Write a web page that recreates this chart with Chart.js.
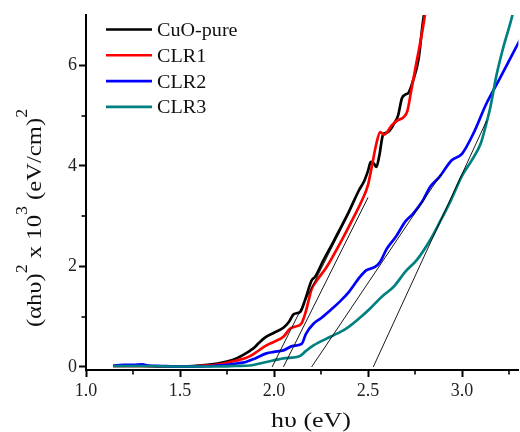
<!DOCTYPE html>
<html><head><meta charset="utf-8">
<script src="https://cdn.jsdelivr.net/npm/chart.js@4/dist/chart.umd.min.js"></script>
<style>html,body{margin:0;padding:0;background:#fff;}canvas{display:block;}</style>
</head><body>
<canvas id="c" width="520" height="432"></canvas>
<script>
// ---- data ----
const seriesLabels = ['CuO-pure', 'CLR1', 'CLR2', 'CLR3'];
const seriesColors = ['#000000', '#ff0000', '#0000ff', '#008080'];

const cuoX = [1.145, 1.2, 1.3, 1.4, 1.5, 1.6, 1.7, 1.75, 1.8, 1.85, 1.875, 1.89, 1.92, 1.95, 2.0, 2.05, 2.08, 2.105, 2.14, 2.165, 2.2, 2.22, 2.26, 2.32, 2.4, 2.45, 2.48, 2.5, 2.515, 2.53, 2.545, 2.56, 2.58, 2.6, 2.615, 2.64, 2.66, 2.68, 2.7, 2.715, 2.74, 2.77, 2.79, 2.81];
const cuoY = [0.02, 0.02, 0.02, 0.01, 0.01, 0.03, 0.07, 0.11, 0.17, 0.27, 0.33, 0.37, 0.48, 0.58, 0.68, 0.78, 0.9, 1.05, 1.1, 1.33, 1.72, 1.8, 2.1, 2.52, 3.1, 3.5, 3.7, 3.9, 4.08, 4.05, 3.98, 4.2, 4.62, 4.66, 4.7, 4.85, 5.0, 5.34, 5.42, 5.45, 5.7, 6.15, 6.8, 7.3];

const clr1X = [1.145, 1.3, 1.5, 1.6, 1.7, 1.8, 1.85, 1.875, 1.9, 1.96, 2.0, 2.05, 2.085, 2.11, 2.145, 2.165, 2.18, 2.2, 2.22, 2.28, 2.36, 2.42, 2.47, 2.5, 2.52, 2.545, 2.565, 2.585, 2.6, 2.625, 2.655, 2.69, 2.71, 2.73, 2.76, 2.79, 2.815];
const clr1Y = [0.02, 0.02, 0.01, 0.02, 0.05, 0.13, 0.18, 0.22, 0.28, 0.43, 0.5, 0.6, 0.76, 0.8, 0.86, 1.05, 1.26, 1.55, 1.68, 1.99, 2.52, 2.95, 3.33, 3.62, 3.98, 4.45, 4.67, 4.62, 4.66, 4.8, 4.9, 4.97, 5.1, 5.5, 6.1, 6.7, 7.3];

const clr2X = [1.145, 1.2, 1.25, 1.3, 1.33, 1.4, 1.5, 1.6, 1.7, 1.8, 1.85, 1.9, 1.96, 2.0, 2.05, 2.1, 2.147, 2.17, 2.21, 2.25, 2.3, 2.35, 2.4, 2.457, 2.49, 2.537, 2.564, 2.6, 2.65, 2.7, 2.74, 2.79, 2.83, 2.88, 2.945, 3.0, 3.06, 3.13, 3.2, 3.27, 3.31];
const clr2Y = [0.03, 0.04, 0.04, 0.05, 0.03, 0.02, 0.01, 0.01, 0.03, 0.07, 0.1, 0.17, 0.27, 0.3, 0.33, 0.42, 0.46, 0.66, 0.86, 0.97, 1.13, 1.3, 1.5, 1.79, 1.92, 1.99, 2.09, 2.35, 2.6, 2.9, 3.05, 3.3, 3.58, 3.78, 4.11, 4.24, 4.64, 5.24, 5.73, 6.23, 6.52];

const clr3X = [1.145, 1.3, 1.5, 1.7, 1.8, 1.872, 1.96, 2.05, 2.138, 2.17, 2.21, 2.3, 2.39, 2.46, 2.51, 2.555, 2.59, 2.635, 2.7, 2.76, 2.83, 2.89, 2.94, 3.0, 3.05, 3.1, 3.13, 3.15, 3.185, 3.22, 3.265, 3.28];
const clr3Y = [0.02, 0.02, 0.01, 0.01, 0.02, 0.03, 0.1, 0.17, 0.22, 0.32, 0.43, 0.6, 0.78, 0.99, 1.16, 1.33, 1.45, 1.59, 1.9, 2.13, 2.52, 2.94, 3.31, 3.8, 4.1, 4.45, 4.85, 5.15, 5.83, 6.36, 6.95, 7.2];

// tangent (band-gap extrapolation) lines: start on the x axis, end point
const tangentStartX = [1.99, 2.05, 2.20, 2.528];
const tangentEndX = [2.40, 2.50, 2.89, 3.131];
const tangentEndY = [3.07, 3.37, 3.84, 4.90];

const xTicks = [1.0, 1.5, 2.0, 2.5, 3.0];
const xMinorTicks = [1.25, 1.75, 2.25, 2.75, 3.25];
const yTicks = [0, 2, 4, 6];
const yMinorTicks = [1, 3, 5];
const xTitle = 'h\u03C5 (eV)';
const yTitleParts = [['(\u03B1h\u03C5)', 0], ['2', 1], [' x 10', 0], ['3', 1], [' (eV/cm)', 0], ['2', 1]];

// ---- build datasets ----
const zip = (xs, ys) => xs.map((x, i) => ({x: x, y: ys[i]}));
const seriesXs = [cuoX, clr1X, clr2X, clr3X];
const seriesYs = [cuoY, clr1Y, clr2Y, clr3Y];
const datasets = [];
seriesLabels.forEach((lab, i) => {
  datasets.push({
    label: lab, data: zip(seriesXs[i], seriesYs[i]),
    borderColor: seriesColors[i], backgroundColor: seriesColors[i],
    borderWidth: 2.7, pointRadius: 0, cubicInterpolationMode: 'monotone',
    order: 4 - i, isSeries: true
  });
});
tangentStartX.forEach((x0, i) => {
  datasets.push({
    label: 'tangent' + (i + 1), data: [{x: x0, y: 0}, {x: tangentEndX[i], y: tangentEndY[i]}],
    borderColor: '#000', borderWidth: 0.9, pointRadius: 0, order: 0, isSeries: false
  });
});

const FONT = '"Liberation Serif", "Times New Roman", serif';

const decor = {
  id: 'decor',
  afterDraw(chart) {
    const ctx = chart.ctx;
    const xs = chart.scales.x, ys = chart.scales.y;
    const area = chart.chartArea;
    ctx.save();
    // minor ticks
    ctx.strokeStyle = '#000'; ctx.lineWidth = 1.6;
    xMinorTicks.forEach(v => {
      const px = Math.round(xs.getPixelForValue(v));
      ctx.beginPath(); ctx.moveTo(px, area.bottom); ctx.lineTo(px, area.bottom + 4.5); ctx.stroke();
    });
    yMinorTicks.forEach(v => {
      const py = Math.round(ys.getPixelForValue(v));
      ctx.beginPath(); ctx.moveTo(area.left - 4.5, py); ctx.lineTo(area.left, py); ctx.stroke();
    });
    // legend
    const items = chart.data.datasets.filter(d => d.isSeries);
    items.forEach((d, i) => {
      const y = 29.5 + i * 25.8;
      ctx.strokeStyle = d.borderColor; ctx.lineWidth = 2.6;
      ctx.beginPath(); ctx.moveTo(106, y); ctx.lineTo(152, y); ctx.stroke();
      ctx.save();
      ctx.translate(157, y + 6.5); ctx.scale(1.06, 1);
      ctx.fillStyle = '#111'; ctx.font = '19px ' + FONT; ctx.textBaseline = 'alphabetic';
      ctx.fillText(d.label, 0, 0);
      ctx.restore();
    });
    // x title
    ctx.save();
    ctx.font = '22px ' + FONT; ctx.fillStyle = '#111';
    const sxT = 1.18;
    const w = ctx.measureText(xTitle).width * sxT;
    ctx.translate(311 - w / 2, 427); ctx.scale(sxT, 1);
    ctx.fillText(xTitle, 0, 0);
    ctx.restore();
    // y title (rotated, with superscripts)
    ctx.save();
    const sy = 1.12;
    ctx.fillStyle = '#111';
    let total = 0;
    yTitleParts.forEach(([t, sup]) => { ctx.font = (sup ? '16px ' : '22px ') + FONT; total += ctx.measureText(t).width; });
    const centerY = 218;
    ctx.translate(41, centerY + total * sy / 2); ctx.rotate(-Math.PI / 2); ctx.scale(sy, 1);
    let cx = 0;
    yTitleParts.forEach(([t, sup]) => {
      ctx.font = (sup ? '16px ' : '22px ') + FONT;
      ctx.fillText(t, cx, sup ? -14 : 0);
      cx += ctx.measureText(t).width;
    });
    ctx.restore();
    ctx.restore();
  }
};

new Chart(document.getElementById('c'), {
  type: 'line',
  data: {datasets: datasets},
  options: {
    responsive: false, animation: false, devicePixelRatio: 1,
    layout: {padding: {top: 15, right: 1.6, left: 0, bottom: 0}},
    plugins: {legend: {display: false}, tooltip: {enabled: false}},
    scales: {
      x: {
        type: 'linear', min: 1.0, max: 3.3,
        afterFit: s => { s.height = 62; },
        afterBuildTicks: s => { s.ticks = xTicks.map(v => ({value: v})); },
        ticks: {callback: v => Number(v).toFixed(1), color: '#222', font: {family: FONT, size: 18}, padding: 3, maxRotation: 0, autoSkip: false},
        grid: {drawOnChartArea: false, drawTicks: true, tickLength: 7, tickColor: '#000', tickWidth: 2},
        border: {display: true, color: '#000', width: 2}
      },
      y: {
        type: 'linear', min: -0.06, max: 7,
        afterFit: s => { s.width = 86; },
        afterBuildTicks: s => { s.ticks = yTicks.map(v => ({value: v})); },
        ticks: {callback: v => String(v), color: '#222', font: {family: FONT, size: 18}, padding: 2},
        grid: {drawOnChartArea: false, drawTicks: true, tickLength: 7, tickColor: '#000', tickWidth: 2},
        border: {display: true, color: '#000', width: 2}
      }
    }
  },
  plugins: [decor]
});
</script>
</body></html>
